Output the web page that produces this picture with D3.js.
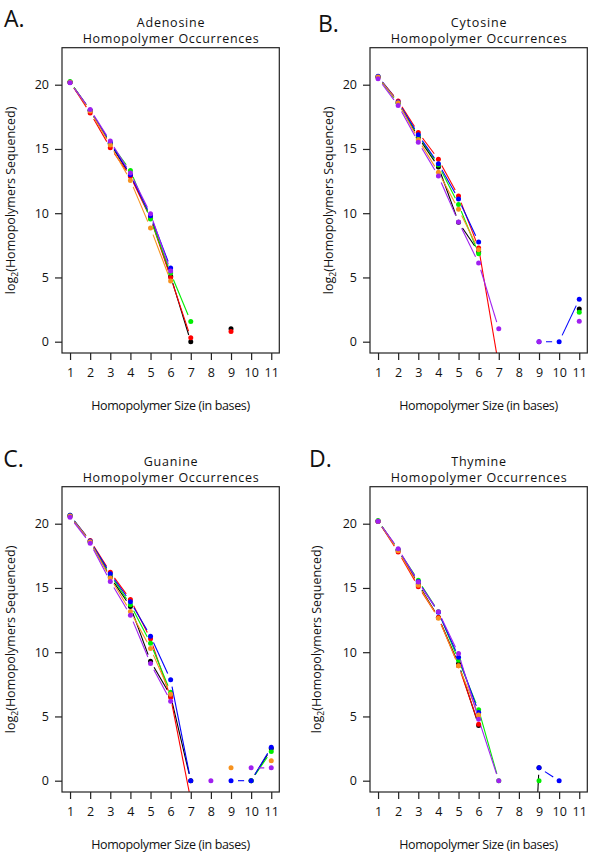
<!DOCTYPE html>
<html>
<head>
<meta charset="utf-8">
<script src="https://cdn.jsdelivr.net/npm/d3@7"></script>
<style>
  html, body { margin: 0; padding: 0; background: #fff; }
  svg { display: block; }
  text { font-family: "Open Sans", "Noto Sans", sans-serif; fill: #111; }
</style>
</head>
<body>
<svg id="chart" width="600" height="855"></svg>
<script>
// ---------- data ----------
const sizes = [1, 2, 3, 4, 5, 6, 7, 8, 9, 10, 11];
const xTicks = [1, 2, 3, 4, 5, 6, 7, 8, 9, 10, 11];
const yTicks = [0, 5, 10, 15, 20];
const seriesColors = ["#000000", "#ff0000", "#00ee00", "#0000ff", "#f7921e", "#a020f0"];
const panelLetters = ["A.", "B.", "C.", "D."];
const panelNames = ["Adenosine", "Cytosine", "Guanine", "Thymine"];
const N = null;

// log2(homopolymers sequenced) per series: black, red, green, blue, orange, purple
const adenosine = [
  [20.2, 18.0, 15.4, 12.95, 9.7, 5.1, 0, N, 1.0, N, N],
  [20.2, 17.8, 15.1, 12.86, 9.6, 5.0, 0.3, N, 0.8, N, N],
  [20.25, 18.0, 15.45, 13.33, 9.54, 5.34, 1.58, N, N, N, N],
  [20.2, 18.0, 15.5, 13.0, 9.8, 5.73, N, N, N, N, N],
  [20.2, 17.95, 15.3, 12.55, 8.84, 4.72, N, N, N, N, N],
  [20.15, 18.08, 15.61, 13.12, 9.96, 5.5, N, N, N, N, N]
];
const cytosine = [
  [20.6, 18.6, 15.9, 13.6, 9.3, 7.0, N, N, N, N, 2.55],
  [20.6, 18.73, 16.29, 14.19, 11.33, 7.3, -1.9, N, N, N, N],
  [20.6, 18.55, 16.03, 13.75, 10.68, 6.85, N, N, N, N, 2.3],
  [20.65, 18.65, 16.1, 13.85, 11.1, 7.75, N, N, 0, 0, 3.3],
  [20.6, 18.6, 15.72, 13.18, 10.3, 7.16, N, N, N, N, N],
  [20.47, 18.39, 15.53, 12.89, 9.31, 6.12, 1.0, N, 0, N, 1.6]
];
const guanine = [
  [20.6, 18.6, 15.85, 13.55, 9.3, 6.6, 0, N, N, 0, 2.5],
  [20.6, 18.7, 16.22, 14.1, 11.05, 6.47, -1.5, N, N, N, N],
  [20.65, 18.6, 16.03, 13.7, 10.7, 6.88, N, N, N, 0, 2.28],
  [20.65, 18.65, 16.1, 13.93, 11.25, 7.85, 0, N, 0, 0, 2.6],
  [20.6, 18.6, 15.77, 13.17, 10.29, 6.73, N, N, 1.0, N, 1.56],
  [20.5, 18.47, 15.5, 12.88, 9.12, 6.18, N, 0, N, 1.0, 1.0]
];
const thymine = [
  [20.2, 17.95, 15.3, 12.7, 9.1, 4.3, N, -30, 1.0, N, N],
  [20.2, 17.8, 15.1, 12.7, 8.95, 4.4, N, N, N, N, N],
  [20.25, 17.95, 15.59, 13.15, 9.38, 5.53, 0, N, 0, N, N],
  [20.2, 17.95, 15.5, 13.1, 9.61, 5.3, N, N, 1.0, 0, N],
  [20.2, 17.9, 15.22, 12.65, 8.95, 5.12, N, N, N, N, N],
  [20.2, 18.05, 15.46, 13.15, 9.9, 4.78, 0, N, N, N, N]
];
const panelData = [adenosine, cytosine, guanine, thymine];

// ---------- layout ----------
const layout = [
  { left: 62,  top: 47.7,  lx: 4,   ly: 26.7,  ylabX: 14.5 },
  { left: 370, top: 47.7,  lx: 318, ly: 31.5,  ylabX: 332.5 },
  { left: 62,  top: 486.7, lx: 3.3, ly: 466.7, ylabX: 14.5 },
  { left: 370, top: 486.7, lx: 309, ly: 466.7, ylabX: 320.5 }
];
const W = 217.3, H = 305.3;
const nameWidths = [67.7, 56, 54, 54.7];

const svg = d3.select("#chart");

panelData.forEach((data, pi) => {
  const L = layout[pi];
  const x = d3.scaleLinear().domain([0.6, 11.4]).range([L.left, L.left + W]);
  const y = d3.scaleLinear().domain([-0.88, 22.88]).range([L.top + H, L.top]);
  const g = svg.append("g");

  const clipId = "clip" + pi;
  svg.append("clipPath").attr("id", clipId)
    .append("rect").attr("x", L.left).attr("y", L.top).attr("width", W).attr("height", H);

  const plot = g.append("g").attr("clip-path", `url(#${clipId})`);
  const gap = 7;

  data.forEach((vals, si) => {
    const col = seriesColors[si];
    const sg = plot.append("g");
    // line segments with gaps (R type="b")
    for (let i = 0; i < vals.length - 1; i++) {
      const a = vals[i], b = vals[i + 1];
      if (a === null || b === null) continue;
      const x1 = x(sizes[i]), y1 = y(a), x2 = x(sizes[i + 1]), y2 = y(b);
      const dx = x2 - x1, dy = y2 - y1, d = Math.hypot(dx, dy);
      if (d <= 2 * gap) continue;
      const ux = dx / d, uy = dy / d;
      sg.append("line")
        .attr("x1", x1 + ux * gap).attr("y1", y1 + uy * gap)
        .attr("x2", x2 - ux * gap).attr("y2", y2 - uy * gap)
        .attr("stroke", col).attr("stroke-width", 1.1);
    }
    sg.selectAll("circle")
      .data(vals.map((v, i) => ({ s: sizes[i], v })).filter(d => d.v !== null))
      .enter().append("circle")
      .attr("cx", d => x(d.s)).attr("cy", d => y(d.v))
      .attr("r", 2.5).attr("fill", col);
  });

  // frame
  g.append("rect").attr("x", L.left).attr("y", L.top).attr("width", W).attr("height", H)
    .attr("fill", "none").attr("stroke", "#222").attr("stroke-width", 1.2);

  // axes
  const xAxis = g.append("g").attr("transform", `translate(0,${L.top + H})`)
    .call(d3.axisBottom(x).tickValues(xTicks).tickSize(7).tickPadding(8).tickFormat(d3.format("d")));
  const yAxis = g.append("g").attr("transform", `translate(${L.left},0)`)
    .call(d3.axisLeft(y).tickValues(yTicks).tickSize(7).tickPadding(6).tickFormat(d3.format("d")));
  [xAxis, yAxis].forEach(ax => {
    ax.select(".domain").remove();
    ax.selectAll(".tick line").attr("stroke", "#222").attr("stroke-width", 1.2);
    ax.selectAll(".tick text").attr("font-size", 12.5).attr("fill", "#111")
      .attr("font-family", "'Open Sans', sans-serif");
  });

  const cx = L.left + W / 2;
  // titles
  g.append("text").attr("x", cx).attr("y", L.top - 20.5).attr("text-anchor", "middle")
    .attr("font-size", 12.5).attr("textLength", nameWidths[pi]).attr("lengthAdjust", "spacing")
    .text(panelNames[pi]);
  g.append("text").attr("x", cx).attr("y", L.top - 4.5).attr("text-anchor", "middle")
    .attr("font-size", 12.5).attr("textLength", 176).attr("lengthAdjust", "spacing")
    .text("Homopolymer Occurrences");

  // x label
  g.append("text").attr("x", cx).attr("y", L.top + H + 56.5).attr("text-anchor", "middle")
    .attr("font-size", 12.5).attr("textLength", 159).attr("lengthAdjust", "spacing")
    .text("Homopolymer Size (in bases)");

  // y label
  const yl = g.append("text")
    .attr("transform", `translate(${L.ylabX},${L.top + H / 2}) rotate(-90)`)
    .attr("text-anchor", "middle").attr("font-size", 12.5);
  yl.append("tspan").text("log");
  yl.append("tspan").attr("font-size", 8.5).attr("dy", 3).text("2");
  yl.append("tspan").attr("dy", -3).text("(Homopolymers Sequenced)");

  // panel letter
  g.append("text").attr("x", L.lx).attr("y", L.ly).attr("font-size", 23).text(panelLetters[pi]);
});
</script>
</body>
</html>
